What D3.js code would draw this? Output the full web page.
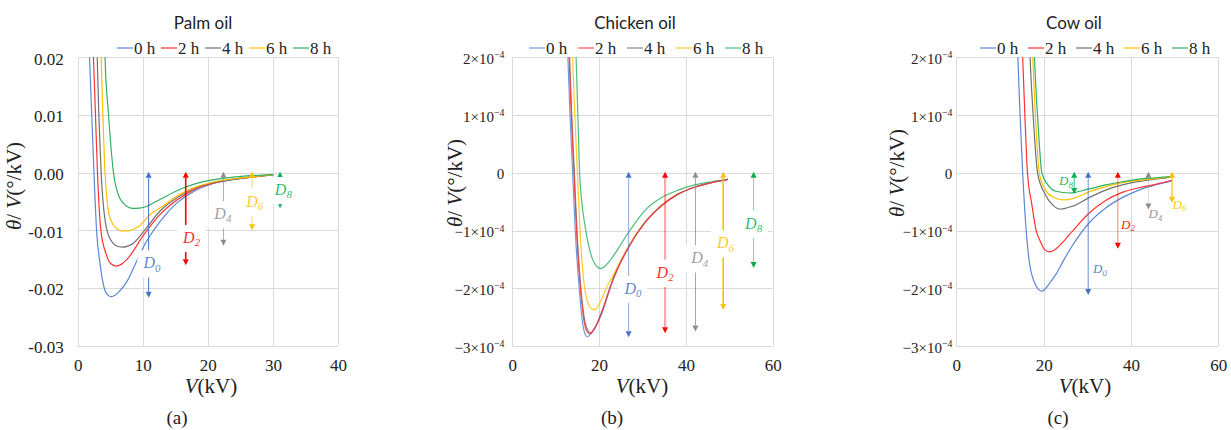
<!DOCTYPE html>
<html><head><meta charset="utf-8">
<script src="https://cdn.jsdelivr.net/npm/d3@7"></script>
<style>body{margin:0;background:#fff}</style>
</head><body>
<svg id="chart" width="1231" height="430"></svg>
<script>
// ---------- DATA ----------
const seriesNames = ["0 h", "2 h", "4 h", "6 h", "8 h"];
const seriesColors = ["#5b87d6", "#ff3030", "#707070", "#ffc000", "#2fb063"];
const arrowColors = ["#4472c4", "#ff0000", "#8c8c8c", "#ffc000", "#00b050"];

// Palm oil: [V (kV), theta/V]
const palm0h = [[1.75,0.022],[1.8,0.0205],[2.16,0.010],[2.5,0.0],[2.9,-0.010],[3.45,-0.0159],[4.07,-0.0200],[4.6,-0.0212],[5.15,-0.0215],[5.8,-0.0212],[6.3,-0.0207],[7.6,-0.0188],[8.8,-0.0160],[10.0,-0.0131],[12.7,-0.0084],[15.3,-0.0052],[17.9,-0.0032],[20.5,-0.0020],[25.6,-0.0009],[30.0,-0.0004]];
const palm2h = [[2.35,0.022],[2.42,0.020],[2.73,0.010],[3.04,0.0],[3.56,-0.010],[4.4,-0.0142],[5.1,-0.0158],[5.9,-0.0162],[6.7,-0.0159],[7.6,-0.0150],[10.2,-0.0107],[12.7,-0.0072],[15.3,-0.0047],[17.9,-0.0029],[20.5,-0.0019],[25.1,-0.0010],[30.0,-0.0004]];
const palm4h = [[2.95,0.022],[3.0,0.020],[3.25,0.010],[3.6,0.0],[4.5,-0.010],[5.5,-0.0123],[6.2,-0.0128],[7.0,-0.0129],[7.8,-0.0127],[8.6,-0.0122],[10.2,-0.0101],[12.7,-0.0066],[15.3,-0.0043],[17.9,-0.0027],[20.5,-0.0018],[25.1,-0.0010],[30.0,-0.0004]];
const palm6h = [[3.55,0.022],[3.6,0.020],[3.87,0.010],[4.2,0.0],[5.0,-0.0080],[6.0,-0.0097],[6.8,-0.0101],[7.6,-0.0101],[8.4,-0.0099],[9.4,-0.0093],[11.2,-0.0072],[12.7,-0.0061],[15.3,-0.0040],[17.9,-0.0026],[20.5,-0.0017],[25.1,-0.0009],[30.0,-0.0004]];
const palm8h = [[4.15,0.022],[4.2,0.020],[4.74,0.010],[5.5,0.0],[6.3,-0.0040],[7.2,-0.0055],[8.0,-0.0061],[8.9,-0.0062],[10.2,-0.0060],[12.7,-0.0046],[15.3,-0.0031],[17.9,-0.0020],[20.5,-0.0013],[25.6,-0.0006],[30.1,-0.00035]];

// Chicken oil
const chicken0h = [[12.7,2.2e-4],[12.8,2.0e-4],[13.3,1.0e-4],[13.9,0],[14.5,-1.0e-4],[15.4,-2.0e-4],[16.2,-2.6e-4],[16.8,-2.8e-4],[17.3,-2.84e-4],[18.0,-2.80e-4],[19.0,-2.68e-4],[20.0,-2.55e-4],[21.0,-2.36e-4],[22.0,-2.12e-4],[23.0,-1.90e-4],[26.8,-1.29e-4],[30.6,-0.86e-4],[34.4,-0.57e-4],[38.2,-0.37e-4],[42.0,-0.25e-4],[45.9,-0.17e-4],[49.7,-0.115e-4]];
const chicken2h = [[13.0,2.2e-4],[13.1,2.0e-4],[13.6,1.0e-4],[14.2,0],[14.8,-1.0e-4],[15.7,-2.0e-4],[16.6,-2.6e-4],[17.3,-2.76e-4],[17.9,-2.79e-4],[18.6,-2.74e-4],[19.5,-2.62e-4],[20.0,-2.53e-4],[21.0,-2.34e-4],[22.0,-2.11e-4],[23.0,-1.89e-4],[26.8,-1.29e-4],[30.6,-0.86e-4],[34.4,-0.57e-4],[38.2,-0.37e-4],[42.0,-0.25e-4],[45.9,-0.17e-4],[49.7,-0.115e-4]];
const chicken4h = [[13.1,2.2e-4],[13.2,2.0e-4],[13.7,1.0e-4],[14.3,0],[14.9,-1.0e-4],[15.8,-2.0e-4],[16.8,-2.6e-4],[17.5,-2.74e-4],[18.1,-2.77e-4],[18.8,-2.72e-4],[19.6,-2.60e-4],[20.0,-2.52e-4],[21.0,-2.33e-4],[22.0,-2.10e-4],[23.0,-1.88e-4],[26.8,-1.28e-4],[30.6,-0.85e-4],[34.4,-0.56e-4],[38.2,-0.37e-4],[42.0,-0.25e-4],[45.9,-0.17e-4],[49.7,-0.115e-4]];
const chicken6h = [[13.8,2.2e-4],[13.9,2.0e-4],[14.4,1.0e-4],[15.0,0],[15.6,-1.0e-4],[16.5,-1.9e-4],[17.4,-2.25e-4],[18.2,-2.35e-4],[18.9,-2.37e-4],[19.6,-2.33e-4],[20.5,-2.20e-4],[21.5,-2.02e-4],[23.0,-1.81e-4],[26.8,-1.27e-4],[30.6,-0.85e-4],[34.4,-0.56e-4],[38.2,-0.37e-4],[42.0,-0.25e-4],[45.9,-0.17e-4],[49.7,-0.115e-4]];
const chicken8h = [[14.6,2.2e-4],[14.7,2.0e-4],[15.1,1.0e-4],[15.5,0],[16.0,-0.5e-4],[16.6,-0.85e-4],[17.3,-1.15e-4],[18.1,-1.41e-4],[19.2,-1.60e-4],[20.4,-1.66e-4],[21.6,-1.60e-4],[23.0,-1.47e-4],[26.8,-1.03e-4],[30.6,-0.65e-4],[34.4,-0.43e-4],[38.2,-0.30e-4],[42.0,-0.21e-4],[45.9,-0.155e-4],[49.7,-0.115e-4]];

// Cow oil
const cow0h = [[14.0,2.2e-4],[14.1,2.0e-4],[14.6,1.0e-4],[15.2,0],[16.0,-1.0e-4],[16.7,-1.53e-4],[17.9,-1.9e-4],[18.8,-2.02e-4],[19.6,-2.05e-4],[20.5,-2.0e-4],[21.5,-1.9e-4],[22.8,-1.76e-4],[24.7,-1.50e-4],[26.6,-1.26e-4],[30.4,-0.87e-4],[34.2,-0.61e-4],[38.0,-0.43e-4],[41.8,-0.30e-4],[45.6,-0.21e-4],[49.4,-0.14e-4]];
const cow2h = [[15.1,2.2e-4],[15.2,2.0e-4],[15.7,1.0e-4],[16.3,0],[17.3,-0.55e-4],[18.3,-1.0e-4],[19.2,-1.18e-4],[20.2,-1.33e-4],[21.3,-1.37e-4],[22.4,-1.34e-4],[24.3,-1.21e-4],[26.6,-1.01e-4],[30.4,-0.70e-4],[34.2,-0.48e-4],[38.0,-0.34e-4],[41.8,-0.26e-4],[45.6,-0.20e-4],[49.4,-0.13e-4]];
const cow4h = [[16.8,2.2e-4],[16.9,2.0e-4],[17.6,1.0e-4],[18.6,0],[20.4,-0.38e-4],[22.1,-0.56e-4],[24.0,-0.63e-4],[25.2,-0.61e-4],[26.6,-0.58e-4],[30.4,-0.43e-4],[34.2,-0.30e-4],[38.0,-0.21e-4],[41.8,-0.15e-4],[45.6,-0.11e-4],[49.4,-0.075e-4]];
const cow6h = [[17.4,2.2e-4],[17.5,2.0e-4],[18.1,1.0e-4],[19.0,0],[20.4,-0.30e-4],[22.1,-0.42e-4],[24.7,-0.47e-4],[26.6,-0.45e-4],[30.4,-0.33e-4],[34.2,-0.24e-4],[38.0,-0.17e-4],[41.8,-0.13e-4],[45.6,-0.10e-4],[49.4,-0.07e-4]];
const cow8h = [[17.8,2.2e-4],[17.9,2.0e-4],[18.6,1.0e-4],[19.6,0],[20.9,-0.20e-4],[22.8,-0.32e-4],[25.9,-0.35e-4],[30.4,-0.28e-4],[34.2,-0.21e-4],[38.0,-0.155e-4],[41.8,-0.11e-4],[45.6,-0.086e-4],[49.4,-0.063e-4]];

// Tick values and labels
const palmXTicks = [0, 10, 20, 30, 40];
const palmYTicks = [0.02, 0.01, 0, -0.01, -0.02, -0.03];
const palmYTickLabels = ["0.02", "0.01", "0.00", "-0.01", "-0.02", "-0.03"];
const sciXTicks = [0, 20, 40, 60];
const sciYTicks = [2e-4, 1e-4, 0, -1e-4, -2e-4, -3e-4];
const sciYMantissa = ["2", "1", "0", "\u22121", "\u22122", "\u22123"];

// D-annotations: arrow V, arrow bottom value, label [V, value], label subscript
const palmArrowV = [10.9, 16.6, 22.4, 26.8, 31.1];
const palmArrowBottom = [-0.0215, -0.0159, -0.0125, -0.0098, -0.0060];
const palmLabelPos = [[11.4,-0.0156],[17.5,-0.0112],[22.3,-0.0071],[27.2,-0.0049],[31.6,-0.0029]];
const chickenArrowV = [26.8, 35.2, 42.2, 48.6, 55.6];
const chickenArrowBottom = [-2.83e-4, -2.76e-4, -2.73e-4, -2.36e-4, -1.63e-4];
const chickenLabelPos = [[27.8,-2.0e-4],[35.2,-1.72e-4],[43.2,-1.47e-4],[49.1,-1.21e-4],[55.6,-0.87e-4]];
const cowArrowV = [30.2, 37.0, 44.0, 49.4, 27.0];
const cowArrowBottom = [-2.1e-4, -1.3e-4, -0.62e-4, -0.5e-4, -0.35e-4];
const cowLabelPos = [[32.9,-1.66e-4],[39.3,-0.89e-4],[45.6,-0.71e-4],[51.1,-0.54e-4],[25.1,-0.14e-4]];
const dSubs = ["0", "2", "4", "6", "8"];

// ---------- DRAW ----------
const svg = d3.select("#chart");
const serif = "Liberation Serif, DejaVu Serif, serif";
const sans = "Lato, Open Sans, sans-serif";

function panel(cfg, idx) {
  const x = d3.scaleLinear().domain(cfg.xDomain).range([cfg.left, cfg.right]);
  const y = d3.scaleLinear().domain(cfg.yDomain).range([cfg.top, cfg.bottom]);
  const g = svg.append("g");

  // gridlines
  g.append("g").selectAll("line").data(cfg.yTicks).join("line")
    .attr("x1", cfg.left).attr("x2", cfg.right)
    .attr("y1", d => Math.round(y(d)) + 0.5).attr("y2", d => Math.round(y(d)) + 0.5)
    .attr("stroke", "#d9d9d9").attr("stroke-width", 1);
  g.append("g").selectAll("line").data(cfg.xTicks).join("line")
    .attr("y1", cfg.top).attr("y2", cfg.bottom)
    .attr("x1", d => Math.round(x(d)) + 0.5).attr("x2", d => Math.round(x(d)) + 0.5)
    .attr("stroke", "#d9d9d9").attr("stroke-width", 1);

  // x tick labels via axis
  const xAxis = g.append("g").attr("transform", `translate(0,${cfg.bottom})`)
    .call(d3.axisBottom(x).tickValues(cfg.xTicks).tickSize(0).tickPadding(13).tickFormat(d3.format("d")));
  xAxis.select(".domain").remove();
  xAxis.attr("font-family", null).attr("font-size", null);
  xAxis.selectAll("text").style("font-family", serif).style("font-size", "17px").attr("fill", "#222");

  // y tick labels via axis
  const yAxis = g.append("g").attr("transform", `translate(${cfg.left},0)`)
    .call(d3.axisLeft(y).tickValues(cfg.yTicks).tickSize(0).tickPadding(cfg.yPad).tickFormat(""));
  yAxis.select(".domain").remove();
  yAxis.attr("font-family", null).attr("font-size", null);
  yAxis.selectAll(".tick").each(function(d, i) {
    const t = d3.select(this).select("text").style("font-family", serif).style("font-size", cfg.yFont + "px")
      .attr("fill", "#222").attr("dy", "0.4em").text(null);
    cfg.yLabel(t, d, i);
  });

  // clip
  const cid = "clip" + idx;
  svg.append("clipPath").attr("id", cid).append("rect")
    .attr("x", cfg.left).attr("y", cfg.top).attr("width", cfg.right - cfg.left).attr("height", cfg.bottom - cfg.top);

  // curves
  const line = d3.line().x(d => x(d[0])).y(d => y(d[1])).curve(d3.curveMonotoneX);
  const cg = g.append("g").attr("clip-path", `url(#${cid})`);
  cfg.order.forEach(i => {
    cg.append("path").datum(cfg.series[i]).attr("d", line)
      .attr("fill", "none").attr("stroke", seriesColors[i]).attr("stroke-width", 1.2)
      .attr("stroke-opacity", cfg.curveOpacity);
  });

  // arrows
  const ag = g.append("g");
  const ah = 3, al = 6;
  cfg.arrowV.forEach((v, i) => {
    const ax = x(v), y0 = y(0), y1 = y(cfg.arrowBottom[i]);
    const col = arrowColors[i];
    ag.append("line").attr("x1", ax).attr("x2", ax).attr("y1", y0 + al - 1).attr("y2", y1 - al + 1)
      .attr("stroke", col).attr("stroke-width", cfg.arrowWidth[i]).attr("stroke-opacity", cfg.arrowOpacity[i]);
    ag.append("path").attr("d", `M${ax},${y0 - 1}L${ax - ah},${y0 + al - 1}L${ax + ah},${y0 + al - 1}Z`).attr("fill", col);
    ag.append("path").attr("d", `M${ax},${y1 + 1}L${ax - ah},${y1 - al + 1}L${ax + ah},${y1 - al + 1}Z`).attr("fill", col);
  });
  cfg.labelPos.forEach((p, i) => {
    const lg = ag.append("g");
    const t = lg.append("text").attr("x", x(p[0])).attr("y", y(p[1]))
      .style("font-family", serif).style("font-size", cfg.dFont + "px").attr("font-style", "italic")
      .attr("text-anchor", "middle").attr("dy", "0.35em").attr("fill", arrowColors[i])
      .attr("fill-opacity", cfg.labelOpacity);
    t.append("tspan").text("D");
    t.append("tspan").style("font-size", (cfg.dFont * 0.68) + "px").attr("dy", "0.3em").text(dSubs[i]);
    if (cfg.labelBox) {
      const b = t.node().getBBox();
      lg.insert("rect", "text").attr("x", b.x - 5).attr("y", b.y - 4).attr("width", b.width + 10).attr("height", b.height + 8)
        .attr("fill", "#fff");
    }
  });

  // title
  svg.append("text").attr("x", cfg.titleX).attr("y", 29).attr("text-anchor", "middle")
    .style("font-family", sans).style("font-size", "17px").attr("fill", "#222").text(cfg.title);

  // legend
  seriesNames.forEach((n, i) => {
    const lx = cfg.legendX + i * cfg.legendStep;
    svg.append("line").attr("x1", lx).attr("x2", lx + 16).attr("y1", 48).attr("y2", 48)
      .attr("stroke", seriesColors[i]).attr("stroke-width", 1.2).attr("stroke-opacity", cfg.curveOpacity);
    svg.append("text").attr("x", lx + 17).attr("y", 53.5).style("font-family", serif).style("font-size", "17px")
      .attr("fill", "#222").text(n);
  });

  // y-axis title
  const yt = svg.append("text").attr("transform", `translate(${cfg.yTitleX},${cfg.yTitleY}) rotate(-90)`)
    .attr("text-anchor", "middle").attr("dy", "0.35em").style("font-family", serif).style("font-size", "21px").attr("fill", "#222");
  yt.append("tspan").attr("font-style", "italic").text("θ");
  yt.append("tspan").text("/ ");
  yt.append("tspan").attr("font-style", "italic").text("V");
  yt.append("tspan").text("(°/kV)");

  // x-axis title
  const xt = svg.append("text").attr("x", cfg.xTitleX).attr("y", 393).attr("text-anchor", "middle")
    .style("font-family", serif).style("font-size", "21px").attr("fill", "#222");
  xt.append("tspan").attr("font-style", "italic").text("V");
  xt.append("tspan").text("(kV)");

  // sub label
  svg.append("text").attr("x", cfg.subX).attr("y", 424).attr("text-anchor", "middle")
    .style("font-family", serif).style("font-size", "19px").attr("fill", "#222").text(cfg.sub);
}

const sciLabel = (t, d, i) => {
  if (d === 0) { t.text("0"); return; }
  t.append("tspan").text(sciYMantissa[i] + "×10");
  t.append("tspan").style("font-size", "0.65em").attr("dy", "-0.55em").text("\u22124");
};

panel({
  left: 77.7, right: 338, top: 57.3, bottom: 345.7,
  xDomain: [0, 40], yDomain: [0.02, -0.03], xTicks: palmXTicks, yTicks: palmYTicks,
  yPad: 14, yFont: 17, yLabel: (t, d, i) => t.text(palmYTickLabels[i]),
  series: [palm0h, palm2h, palm4h, palm6h, palm8h], order: [0, 1, 2, 3, 4], curveOpacity: 1,
  arrowV: palmArrowV, arrowBottom: palmArrowBottom, labelPos: palmLabelPos,
  arrowWidth: [1, 1.6, 1, 1, 1], arrowOpacity: [1, 1, 0.7, 0.6, 0.6],
  dFont: 16, labelBox: true, labelOpacity: 0.85,
  title: "Palm oil", titleX: 203, legendX: 117, legendStep: 44,
  yTitleX: 14, yTitleY: 186, xTitleX: 211, sub: "(a)", subX: 177
}, 0);

panel({
  left: 512.3, right: 772.7, top: 57.3, bottom: 346,
  xDomain: [0, 60], yDomain: [2e-4, -3e-4], xTicks: sciXTicks, yTicks: sciYTicks,
  yPad: 8, yFont: 15, yLabel: sciLabel,
  series: [chicken0h, chicken2h, chicken4h, chicken6h, chicken8h], order: [2, 3, 4, 0, 1], curveOpacity: 0.85,
  arrowV: chickenArrowV, arrowBottom: chickenArrowBottom, labelPos: chickenLabelPos,
  arrowWidth: [1, 2.2, 1, 1.6, 1], arrowOpacity: [0.6, 0.35, 0.8, 1, 0.5],
  dFont: 16, labelBox: true, labelOpacity: 0.85,
  title: "Chicken oil", titleX: 635, legendX: 529, legendStep: 49,
  yTitleX: 455, yTitleY: 183, xTitleX: 642, sub: "(b)", subX: 612
}, 1);

panel({
  left: 956.3, right: 1218.3, top: 57.3, bottom: 346,
  xDomain: [0, 60], yDomain: [2e-4, -3e-4], xTicks: sciXTicks, yTicks: sciYTicks,
  yPad: 4, yFont: 15, yLabel: sciLabel,
  series: [cow0h, cow2h, cow4h, cow6h, cow8h], order: [0, 1, 2, 3, 4], curveOpacity: 1,
  arrowV: cowArrowV, arrowBottom: cowArrowBottom, labelPos: cowLabelPos,
  arrowWidth: [1, 1, 1, 1.2, 1], arrowOpacity: [0.8, 0.5, 0.3, 1, 0.8],
  dFont: 13, labelBox: false, labelOpacity: 0.9,
  title: "Cow oil", titleX: 1074, legendX: 980, legendStep: 48,
  yTitleX: 897, yTitleY: 173, xTitleX: 1085, sub: "(c)", subX: 1058
}, 2);
</script>
</body></html>
